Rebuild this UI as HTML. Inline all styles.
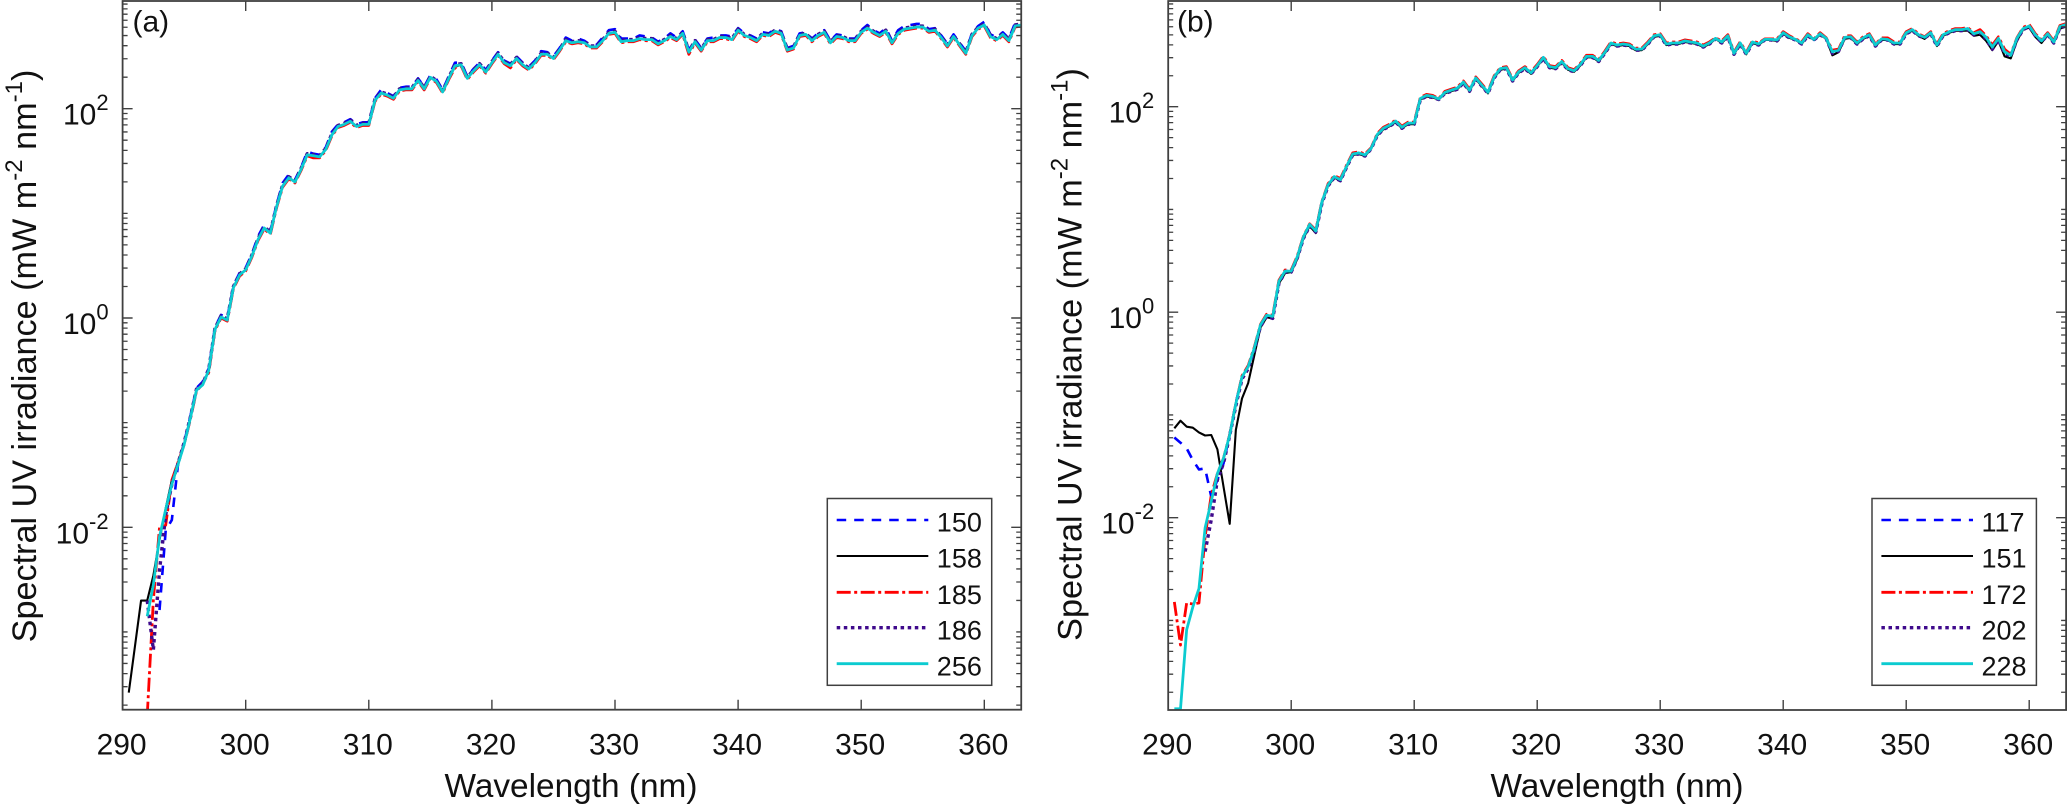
<!DOCTYPE html>
<html lang="en">
<head>
<meta charset="utf-8">
<title>Spectral UV irradiance</title>
<style>
html,body{margin:0;padding:0;background:#fff;}
body{width:2067px;height:806px;overflow:hidden;}
svg{display:block;font-family:"Liberation Sans",Arial,sans-serif;fill:#111;}
</style>
</head>
<body>
<svg id="figure" xmlns="http://www.w3.org/2000/svg" width="2067" height="806" viewBox="0 0 2067 806">
  <defs>
    <clipPath id="clip-a"><rect x="122.6" y="1" width="898.6" height="708.7"/></clipPath>
    <clipPath id="clip-b"><rect x="1168.2" y="1" width="897.8" height="709"/></clipPath>
  </defs>
  <g id="panel-a"></g>
  <g id="panel-b"></g>
  <text x="132.5" y="31.7" font-size="30">(a)</text>
  <text x="1177" y="31.7" font-size="30">(b)</text>
  <text x="571" y="797" font-size="33.4" text-anchor="middle">Wavelength (nm)</text>
  <text x="1617" y="797" font-size="33.4" text-anchor="middle">Wavelength (nm)</text>
  <text transform="translate(36 356) rotate(-90)" font-size="34.2" text-anchor="middle">Spectral UV irradiance (mW m<tspan dy="-14" font-size="24">-2</tspan><tspan dy="14"> nm</tspan><tspan dy="-14" font-size="24">-1</tspan><tspan dy="14">)</tspan></text>
  <text transform="translate(1081.7 354.5) rotate(-90)" font-size="34.2" text-anchor="middle">Spectral UV irradiance (mW m<tspan dy="-14" font-size="24">-2</tspan><tspan dy="14"> nm</tspan><tspan dy="-14" font-size="24">-1</tspan><tspan dy="14">)</tspan></text>
</svg>
<script>
const wavelengths = [290,290.5,291,291.5,292,292.5,293,293.5,294,294.5,295,295.5,296,296.5,297,297.5,298,298.5,299,299.5,300,300.5,301,301.5,302,302.5,303,303.5,304,304.5,305,305.5,306,306.5,307,307.5,308,308.5,309,309.5,310,310.5,311,311.5,312,312.5,313,313.5,314,314.5,315,315.5,316,316.5,317,317.5,318,318.5,319,319.5,320,320.5,321,321.5,322,322.5,323,323.5,324,324.5,325,325.5,326,326.5,327,327.5,328,328.5,329,329.5,330,330.5,331,331.5,332,332.5,333,333.5,334,334.5,335,335.5,336,336.5,337,337.5,338,338.5,339,339.5,340,340.5,341,341.5,342,342.5,343,343.5,344,344.5,345,345.5,346,346.5,347,347.5,348,348.5,349,349.5,350,350.5,351,351.5,352,352.5,353,353.5,354,354.5,355,355.5,356,356.5,357,357.5,358,358.5,359,359.5,360,360.5,361,361.5,362,362.5,363];

/* All series hold log10(spectral irradiance in mW m-2 nm-1). */
const logIrradianceA150 = [null,null,null,null,null,null,-2.79,-2.03,-1.93,-1.40,
-1.19,-0.94,-0.67,-0.61,-0.48,-0.09,0.03,0.00,0.31,0.43,
0.48,0.61,0.78,0.89,0.83,1.08,1.29,1.37,1.32,1.44,
1.59,1.57,1.56,1.63,1.78,1.85,1.87,1.90,1.85,1.87,
1.87,2.10,2.18,2.15,2.12,2.20,2.21,2.21,2.29,2.21,
2.32,2.28,2.18,2.31,2.44,2.44,2.31,2.38,2.44,2.37,
2.46,2.54,2.46,2.43,2.50,2.44,2.40,2.46,2.55,2.54,
2.50,2.58,2.68,2.65,2.67,2.65,2.61,2.61,2.68,2.75,
2.76,2.67,2.67,2.67,2.70,2.69,2.68,2.64,2.67,2.72,
2.68,2.74,2.56,2.66,2.58,2.67,2.68,2.70,2.70,2.69,
2.77,2.72,2.70,2.67,2.73,2.72,2.76,2.74,2.58,2.60,
2.72,2.73,2.67,2.72,2.75,2.65,2.71,2.70,2.67,2.67,
2.75,2.80,2.75,2.72,2.77,2.65,2.75,2.79,2.80,2.81,
2.81,2.76,2.77,2.70,2.62,2.71,2.63,2.55,2.72,2.79,
2.83,2.71,2.68,2.73,2.67,2.82,2.82];
const logIrradianceA158 = [null,-3.58,-3.14,-2.70,-2.70,-2.46,-2.12,-1.82,-1.55,-1.38,
-1.20,-0.96,-0.69,-0.64,-0.50,-0.11,0.01,-0.02,0.29,0.41,
0.46,0.59,0.75,0.86,0.81,1.06,1.26,1.34,1.30,1.42,
1.56,1.54,1.54,1.61,1.75,1.83,1.85,1.88,1.83,1.85,
1.85,2.08,2.15,2.13,2.10,2.18,2.19,2.19,2.27,2.19,
2.30,2.26,2.16,2.29,2.40,2.42,2.29,2.36,2.42,2.35,
2.44,2.52,2.44,2.41,2.48,2.42,2.38,2.44,2.52,2.52,
2.48,2.56,2.65,2.63,2.64,2.63,2.59,2.59,2.65,2.72,
2.73,2.64,2.65,2.65,2.67,2.66,2.66,2.62,2.65,2.69,
2.66,2.72,2.54,2.64,2.56,2.65,2.65,2.68,2.68,2.66,
2.75,2.70,2.68,2.65,2.71,2.70,2.74,2.72,2.56,2.58,
2.70,2.71,2.65,2.70,2.73,2.63,2.69,2.68,2.65,2.65,
2.73,2.77,2.73,2.70,2.74,2.63,2.72,2.76,2.77,2.78,
2.78,2.74,2.75,2.68,2.60,2.69,2.61,2.53,2.70,2.77,
2.80,2.69,2.66,2.71,2.65,2.79,2.80];
const logIrradianceA185 = [null,null,null,null,-3.80,-2.69,-2.00,-1.98,-1.55,-1.38,
-1.21,-0.97,-0.70,-0.63,-0.52,-0.12,0.00,-0.03,0.28,0.40,
0.45,0.58,0.74,0.85,0.80,1.05,1.25,1.33,1.29,1.41,
1.55,1.53,1.53,1.60,1.74,1.82,1.84,1.87,1.82,1.84,
1.84,2.07,2.14,2.12,2.09,2.17,2.18,2.18,2.26,2.18,
2.29,2.25,2.15,2.28,2.39,2.41,2.28,2.35,2.41,2.34,
2.43,2.51,2.43,2.39,2.47,2.41,2.37,2.43,2.51,2.51,
2.47,2.55,2.64,2.62,2.63,2.62,2.58,2.58,2.64,2.71,
2.72,2.63,2.64,2.64,2.66,2.65,2.65,2.61,2.64,2.68,
2.65,2.71,2.52,2.63,2.55,2.64,2.64,2.67,2.67,2.65,
2.74,2.69,2.67,2.64,2.70,2.69,2.73,2.71,2.55,2.57,
2.69,2.70,2.64,2.69,2.72,2.62,2.68,2.67,2.64,2.64,
2.72,2.76,2.72,2.69,2.73,2.62,2.71,2.75,2.76,2.77,
2.77,2.73,2.74,2.67,2.59,2.68,2.60,2.52,2.69,2.76,
2.79,2.68,2.65,2.70,2.64,2.78,2.79];
const logIrradianceA186 = [null,null,null,null,-2.70,-3.17,-2.41,-1.88,-1.59,-1.39,
-1.19,-0.95,-0.68,-0.63,-0.49,-0.10,0.02,-0.01,0.30,0.42,
0.47,0.60,0.76,0.87,0.82,1.07,1.27,1.35,1.31,1.43,
1.57,1.56,1.55,1.62,1.76,1.84,1.86,1.89,1.84,1.86,
1.86,2.09,2.16,2.14,2.11,2.19,2.20,2.20,2.28,2.20,
2.31,2.27,2.17,2.30,2.42,2.43,2.30,2.37,2.43,2.36,
2.45,2.53,2.45,2.42,2.49,2.43,2.39,2.45,2.53,2.53,
2.49,2.57,2.66,2.64,2.65,2.64,2.60,2.60,2.66,2.73,
2.74,2.65,2.66,2.66,2.68,2.67,2.67,2.63,2.66,2.70,
2.67,2.73,2.55,2.65,2.57,2.66,2.66,2.69,2.69,2.67,
2.76,2.71,2.69,2.66,2.72,2.71,2.75,2.73,2.57,2.59,
2.71,2.72,2.66,2.71,2.74,2.64,2.70,2.69,2.66,2.66,
2.74,2.78,2.74,2.71,2.75,2.64,2.73,2.77,2.78,2.79,
2.79,2.75,2.76,2.69,2.61,2.70,2.62,2.54,2.71,2.78,
2.81,2.70,2.67,2.72,2.66,2.80,2.81];
const logIrradianceA256 = [null,null,null,null,-2.85,-2.55,-2.09,-1.83,-1.59,-1.40,
-1.21,-0.96,-0.69,-0.64,-0.50,-0.11,0.01,-0.02,0.29,0.41,
0.46,0.59,0.75,0.86,0.81,1.06,1.26,1.34,1.30,1.42,
1.56,1.55,1.54,1.61,1.75,1.83,1.85,1.88,1.83,1.85,
1.85,2.08,2.15,2.13,2.10,2.18,2.19,2.19,2.27,2.19,
2.30,2.26,2.16,2.29,2.41,2.42,2.29,2.36,2.42,2.35,
2.44,2.52,2.44,2.41,2.48,2.42,2.38,2.44,2.52,2.52,
2.48,2.56,2.65,2.63,2.64,2.63,2.59,2.59,2.65,2.72,
2.73,2.64,2.65,2.65,2.67,2.66,2.66,2.62,2.65,2.69,
2.66,2.72,2.54,2.64,2.56,2.65,2.65,2.68,2.68,2.66,
2.75,2.70,2.68,2.65,2.71,2.70,2.74,2.72,2.56,2.58,
2.70,2.71,2.65,2.70,2.73,2.63,2.69,2.68,2.65,2.65,
2.73,2.77,2.73,2.70,2.74,2.63,2.72,2.76,2.77,2.78,
2.78,2.74,2.75,2.68,2.60,2.69,2.61,2.53,2.70,2.77,
2.80,2.69,2.66,2.71,2.65,2.79,2.80];

const logIrradianceB117 = [null,-1.22,-1.27,-1.325,-1.44,-1.53,-1.52,-1.795,-1.63,-1.47,
-1.19,-0.88,-0.63,-0.53,-0.36,-0.13,-0.03,-0.05,0.29,0.40,
0.40,0.53,0.73,0.85,0.78,1.07,1.24,1.31,1.28,1.42,
1.54,1.55,1.53,1.59,1.73,1.79,1.82,1.86,1.80,1.84,
1.84,2.08,2.11,2.10,2.07,2.14,2.16,2.18,2.24,2.16,
2.28,2.21,2.14,2.29,2.37,2.38,2.26,2.34,2.38,2.33,
2.40,2.48,2.39,2.38,2.44,2.37,2.35,2.41,2.49,2.49,
2.45,2.53,2.62,2.60,2.61,2.60,2.56,2.56,2.62,2.69,
2.70,2.61,2.62,2.62,2.64,2.63,2.62,2.59,2.62,2.66,
2.63,2.69,2.52,2.62,2.52,2.63,2.61,2.65,2.65,2.65,
2.72,2.68,2.65,2.62,2.70,2.65,2.71,2.66,2.53,2.55,
2.67,2.68,2.62,2.67,2.70,2.60,2.66,2.65,2.62,2.62,
2.72,2.75,2.70,2.67,2.72,2.60,2.70,2.73,2.75,2.75,
2.76,2.71,2.73,2.67,2.58,2.66,2.53,2.50,2.66,2.76,
2.78,2.70,2.64,2.71,2.63,2.78,2.80];
const logIrradianceB151 = [null,-1.13,-1.056,-1.114,-1.124,-1.17,-1.20,-1.195,-1.335,-1.70,
-2.06,-1.146,-0.84,-0.69,-0.42,-0.15,-0.05,-0.06,0.28,0.38,
0.39,0.52,0.72,0.84,0.77,1.06,1.23,1.31,1.28,1.41,
1.53,1.54,1.52,1.59,1.72,1.78,1.81,1.85,1.79,1.83,
1.83,2.07,2.10,2.09,2.07,2.13,2.15,2.17,2.23,2.15,
2.27,2.20,2.13,2.28,2.36,2.37,2.25,2.33,2.37,2.32,
2.39,2.47,2.38,2.37,2.43,2.36,2.34,2.40,2.48,2.48,
2.44,2.52,2.61,2.59,2.60,2.59,2.55,2.55,2.61,2.68,
2.69,2.60,2.61,2.61,2.63,2.62,2.61,2.58,2.61,2.66,
2.62,2.68,2.51,2.61,2.51,2.62,2.60,2.65,2.65,2.64,
2.71,2.67,2.65,2.61,2.69,2.65,2.70,2.66,2.50,2.53,
2.66,2.67,2.61,2.66,2.69,2.59,2.65,2.65,2.61,2.61,
2.71,2.74,2.69,2.66,2.71,2.59,2.69,2.72,2.74,2.74,
2.74,2.69,2.70,2.64,2.55,2.64,2.49,2.47,2.64,2.75,
2.77,2.68,2.62,2.70,2.62,2.76,2.78];
const logIrradianceB172 = [null,-2.82,-3.24,-2.83,-2.84,-2.83,-2.185,-1.78,-1.57,-1.42,
-1.19,-0.89,-0.62,-0.52,-0.34,-0.12,-0.02,-0.03,0.31,0.41,
0.41,0.55,0.74,0.86,0.80,1.08,1.25,1.33,1.30,1.43,
1.55,1.56,1.54,1.60,1.74,1.80,1.83,1.87,1.81,1.85,
1.85,2.09,2.12,2.11,2.08,2.15,2.17,2.19,2.25,2.17,
2.29,2.22,2.15,2.30,2.38,2.39,2.27,2.35,2.39,2.34,
2.41,2.49,2.40,2.39,2.45,2.38,2.36,2.42,2.50,2.50,
2.46,2.54,2.63,2.61,2.62,2.61,2.57,2.57,2.63,2.70,
2.71,2.62,2.63,2.63,2.65,2.64,2.63,2.60,2.63,2.67,
2.64,2.70,2.53,2.63,2.53,2.64,2.62,2.66,2.66,2.66,
2.73,2.69,2.66,2.63,2.71,2.66,2.72,2.67,2.55,2.56,
2.69,2.69,2.63,2.68,2.71,2.61,2.67,2.67,2.63,2.63,
2.73,2.76,2.71,2.68,2.73,2.61,2.71,2.74,2.76,2.76,
2.77,2.72,2.75,2.69,2.60,2.68,2.56,2.51,2.67,2.77,
2.80,2.71,2.65,2.72,2.64,2.79,2.81];
const logIrradianceB202 = [null,null,null,null,null,null,-2.33,-2.02,-1.63,-1.47,
-1.20,-0.91,-0.65,-0.55,-0.37,-0.14,-0.04,-0.06,0.28,0.39,
0.39,0.53,0.72,0.84,0.78,1.06,1.23,1.31,1.28,1.41,
1.53,1.54,1.52,1.59,1.72,1.78,1.81,1.85,1.79,1.83,
1.83,2.07,2.10,2.09,2.07,2.13,2.15,2.17,2.23,2.15,
2.27,2.20,2.13,2.28,2.36,2.37,2.25,2.33,2.37,2.32,
2.39,2.47,2.38,2.37,2.43,2.36,2.34,2.40,2.48,2.48,
2.44,2.52,2.61,2.59,2.60,2.59,2.55,2.55,2.61,2.68,
2.69,2.60,2.61,2.61,2.63,2.62,2.61,2.58,2.61,2.66,
2.62,2.68,2.51,2.61,2.51,2.62,2.60,2.65,2.65,2.64,
2.71,2.67,2.65,2.61,2.69,2.65,2.70,2.66,2.52,2.54,
2.67,2.67,2.61,2.66,2.69,2.59,2.65,2.65,2.61,2.61,
2.71,2.74,2.69,2.67,2.71,2.59,2.69,2.72,2.74,2.74,
2.75,2.70,2.72,2.66,2.56,2.65,2.52,2.49,2.65,2.75,
2.78,2.69,2.63,2.70,2.62,2.77,2.79];
const logIrradianceB228 = [null,-3.86,-3.86,-3.09,-2.87,-2.69,-2.10,-1.84,-1.57,-1.42,
-1.195,-0.89,-0.63,-0.53,-0.35,-0.125,-0.03,-0.04,0.30,0.40,
0.40,0.54,0.735,0.855,0.79,1.075,1.24,1.32,1.29,1.42,
1.54,1.55,1.53,1.595,1.73,1.79,1.82,1.86,1.80,1.84,
1.84,2.08,2.11,2.10,2.075,2.14,2.16,2.18,2.24,2.16,
2.28,2.21,2.14,2.29,2.37,2.38,2.26,2.34,2.38,2.33,
2.40,2.48,2.39,2.38,2.44,2.37,2.35,2.41,2.49,2.49,
2.45,2.53,2.62,2.60,2.61,2.60,2.56,2.56,2.62,2.69,
2.70,2.61,2.62,2.62,2.64,2.63,2.62,2.59,2.62,2.665,
2.63,2.69,2.52,2.62,2.52,2.63,2.61,2.655,2.655,2.65,
2.72,2.68,2.655,2.62,2.70,2.655,2.71,2.665,2.535,2.55,
2.675,2.68,2.62,2.67,2.70,2.60,2.66,2.655,2.62,2.62,
2.72,2.75,2.70,2.675,2.72,2.60,2.70,2.73,2.75,2.75,
2.76,2.71,2.73,2.675,2.58,2.665,2.535,2.50,2.665,2.76,
2.785,2.70,2.64,2.71,2.63,2.78,2.80];

const seriesNamesA = ['150','158','185','186','256'];
const seriesNamesB = ['117','151','172','202','228'];
const seriesValuesA = [logIrradianceA150,logIrradianceA158,logIrradianceA185,logIrradianceA186,logIrradianceA256];
const seriesValuesB = [logIrradianceB117,logIrradianceB151,logIrradianceB172,logIrradianceB202,logIrradianceB228];
const xTickLabels = [290,300,310,320,330,340,350,360];
const yTickExponents = [2,0,-2];

const SVG_NS = 'http://www.w3.org/2000/svg';
const lineStyles = [
  {stroke:'#0000ff',width:2.6,dash:'9.5 8'},
  {stroke:'#000000',width:2.1,dash:''},
  {stroke:'#ff0000',width:2.8,dash:'14 3.5 3 3.5'},
  {stroke:'#3f0a8c',width:3.4,dash:'3.5 3.6'},
  {stroke:'#0ccbd0',width:2.8,dash:''}
];

function mk(parent, tag, attrs, text) {
  const el = document.createElementNS(SVG_NS, tag);
  for (const k in attrs) el.setAttribute(k, attrs[k]);
  if (text !== undefined) el.textContent = text;
  parent.appendChild(el);
  return el;
}

function drawPanel(cfg) {
  const g = document.getElementById(cfg.id);
  const xScale = w => cfg.x0 + (w - 290) * cfg.xk;
  const yScale = l => cfg.y0 - l * cfg.yk;
  const right = xScale(363);
  const top = 1, bottom = cfg.bottom;
  const axisColor = '#404040';

  /* series */
  cfg.values.forEach((vals, s) => {
    const st = lineStyles[s];
    let d = '';
    let pen = false;
    vals.forEach((v, i) => {
      if (v === null) { pen = false; return; }
      d += (pen ? 'L' : 'M') + xScale(wavelengths[i]).toFixed(2) + ' ' + yScale(v).toFixed(2);
      pen = true;
    });
    const p = mk(g, 'path', {d:d, fill:'none', stroke:st.stroke, 'stroke-width':st.width, 'stroke-linejoin':'round', 'clip-path':'url(#' + cfg.clip + ')'});
    if (st.dash) p.setAttribute('stroke-dasharray', st.dash);
    
    
  });

  /* plot frame */
  const frame = mk(g, 'rect', {x:cfg.x0, y:top, width:right - cfg.x0, height:bottom - top, fill:'none', stroke:axisColor, 'stroke-width':1.8});
  
  

  /* x ticks and labels */
  xTickLabels.forEach(t => {
    const x = xScale(t);
    const tk = mk(g, 'path', {d:'M' + x + ' ' + bottom + 'V' + (bottom - 10) + 'M' + x + ' ' + top + 'V' + (top + 10), stroke:axisColor, 'stroke-width':1.4, fill:'none'});
    
    
    const lb = mk(g, 'text', {x:x - 1, y:754.3, 'font-size':30, 'text-anchor':'middle'}, String(t));
    
    
  });

  /* minor y ticks */
  for (let dec = -4; dec <= 3; dec++) {
    for (let m = 1; m <= 9; m++) {
      if (m === 1 && yTickExponents.indexOf(dec) >= 0) continue;
      const y = yScale(dec + Math.log10(m));
      if (y < top || y > bottom) continue;
      const tk = mk(g, 'path', {d:'M' + cfg.x0 + ' ' + y + 'h5M' + right + ' ' + y + 'h-5', stroke:axisColor, 'stroke-width':1.3, fill:'none'});
      
      
    }
  }

  /* major y ticks and labels */
  yTickExponents.forEach(e => {
    const y = yScale(e);
    const tk = mk(g, 'path', {d:'M' + cfg.x0 + ' ' + y + 'h10M' + right + ' ' + y + 'h-10', stroke:axisColor, 'stroke-width':1.4, fill:'none'});
    
    
    const lb = mk(g, 'text', {x:cfg.x0 - 14, y:y + 16, 'font-size':30, 'text-anchor':'end'}, '10');
    mk(lb, 'tspan', {dy:-14.5, 'font-size':22}, String(e));
    
    
  });

  /* legend */
  const lg = mk(g, 'g', {});
  
  
  const box = mk(lg, 'rect', {x:cfg.legendX, y:498.5, width:164.4, height:186.8, fill:'#fff', stroke:axisColor, 'stroke-width':1.5});
  
  
  const rowY = [520, 556, 592.3, 627.7, 663.7];
  cfg.names.forEach((n, s) => {
    const st = lineStyles[s];
    const y = rowY[s];
    const ln = mk(lg, 'line', {x1:cfg.legendX + 9.4, x2:cfg.legendX + 101, y1:y, y2:y, stroke:st.stroke, 'stroke-width':st.width});
    if (st.dash) ln.setAttribute('stroke-dasharray', st.dash);
    
    
    const tx = mk(lg, 'text', {x:cfg.legendX + 109.5, y:y + 11.7, 'font-size':27}, n);
    
    
  });
}

drawPanel({id:'panel-a', clip:'clip-a', x0:122.6, xk:12.31, y0:318, yk:104.65, bottom:709.7, legendX:827.3, names:seriesNamesA, values:seriesValuesA});
drawPanel({id:'panel-b', clip:'clip-b', x0:1168.2, xk:12.3, y0:312.2, yk:102.75, bottom:710, legendX:1872, names:seriesNamesB, values:seriesValuesB});
</script>
</body>
</html>
